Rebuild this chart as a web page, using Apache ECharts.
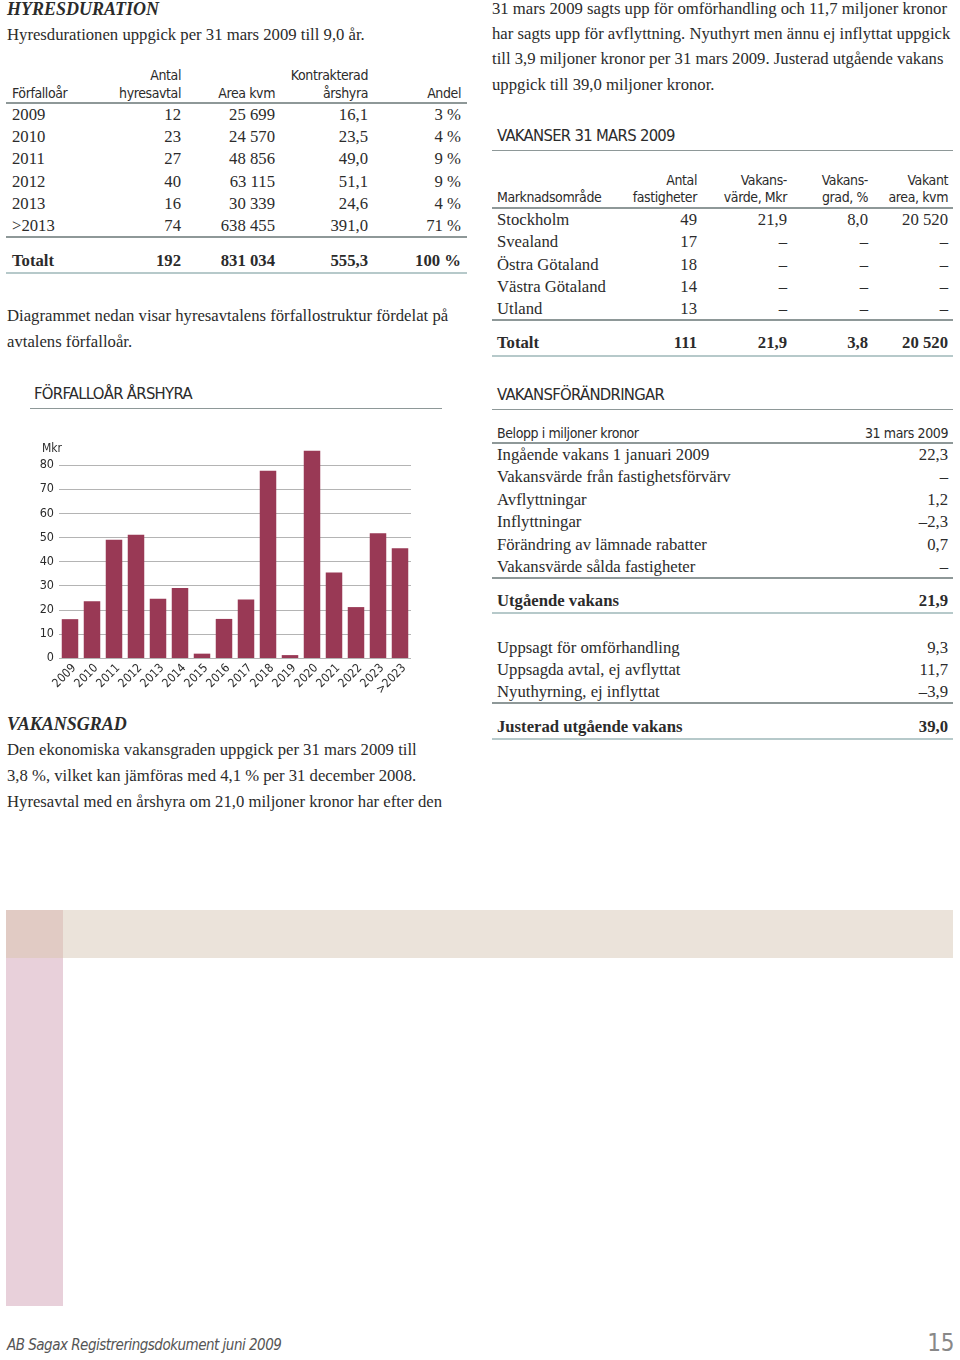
<!DOCTYPE html>
<html><head><meta charset="utf-8">
<script src="https://cdn.jsdelivr.net/npm/echarts/dist/echarts.min.js"></script>
<style>
html,body{margin:0;padding:0;width:960px;height:1360px;background:#fff;overflow:hidden;}
body{position:relative;}
.t{position:absolute;white-space:nowrap;color:#2b2b2b;}
.serif{font-family:"Liberation Serif","Times New Roman",serif;font-size:16.7px;}
.sans{font-family:"Liberation Sans Narrow","DejaVu Sans Condensed","Open Sans",sans-serif;font-size:14px;letter-spacing:-0.4px;}
.head{font-family:"Liberation Sans Narrow","DejaVu Sans Condensed","Open Sans",sans-serif;font-size:16.5px;letter-spacing:-0.7px;}
.bi{font-weight:bold;font-style:italic;font-size:18px;}
.b{font-weight:bold;}
.hl{position:absolute;height:2px;background:#8e9898;}
.hl.light{background:#b6c9ca;}
.hl.thin{height:1px;background:#8e9898;}
.rect{position:absolute;}
#chart{position:absolute;left:30px;top:420px;width:420px;height:280px;}
</style></head>
<body>
<div class="rect" style="left:6px;top:910px;width:947px;height:48px;background:#ebe3da;"></div>
<div class="rect" style="left:6px;top:958px;width:57px;height:348px;background:#e8d0da;"></div>
<div class="rect" style="left:6px;top:910px;width:57px;height:48px;background:#e1cbc4;"></div>
<div id="chart"></div>
<script>
// ---- chart data ----
const years = ['2009','2010','2011','2012','2013','2014','2015','2016','2017','2018','2019','2020','2021','2022','2023','>2023'];
const rent = [16.1,23.5,49.0,51.1,24.6,29.0,1.8,16.2,24.3,77.6,1.2,85.9,35.4,21.1,51.7,45.5];

// ---- table: hyresduration ----
const durHead1 = ['', 'Antal', '', 'Kontrakterad', ''];
const durHead2 = ['Förfalloår', 'hyresavtal', 'Area kvm', 'årshyra', 'Andel'];
const durYears = ['2009','2010','2011','2012','2013','>2013'];
const durCount = ['12','23','27','40','16','74'];
const durArea = ['25 699','24 570','48 856','63 115','30 339','638 455'];
const durRent = ['16,1','23,5','49,0','51,1','24,6','391,0'];
const durShare = ['3 %','4 %','9 %','9 %','4 %','71 %'];
const durTotal = ['Totalt','192','831 034','555,3','100 %'];

// ---- table: vakanser ----
const vakHead1 = ['', 'Antal', 'Vakans-', 'Vakans-', 'Vakant'];
const vakHead2 = ['Marknadsområde', 'fastigheter', 'värde, Mkr', 'grad, %', 'area, kvm'];
const vakRegions = ['Stockholm','Svealand','Östra Götaland','Västra Götaland','Utland'];
const vakCount = ['49','17','18','14','13'];
const vakValue = ['21,9','–','–','–','–'];
const vakGrade = ['8,0','–','–','–','–'];
const vakArea = ['20 520','–','–','–','–'];
const vakTotal = ['Totalt','111','21,9','3,8','20 520'];

// ---- table: vakansförändringar ----
const chgLabels = ['Ingående vakans 1 januari 2009','Vakansvärde från fastighetsförvärv','Avflyttningar','Inflyttningar','Förändring av lämnade rabatter','Vakansvärde sålda fastigheter'];
const chgValues = ['22,3','–','1,2','–2,3','0,7','–'];
const chgOut = ['Utgående vakans','21,9'];
const chgLabels2 = ['Uppsagt för omförhandling','Uppsagda avtal, ej avflyttat','Nyuthyrning, ej inflyttat'];
const chgValues2 = ['9,3','11,7','–3,9'];
const chgAdj = ['Justerad utgående vakans','39,0'];

// ---- helpers ----
function txt(x, y, s, cls, align, extra) {
  const d = document.createElement('div');
  d.className = 't ' + cls;
  d.textContent = s;
  d.style.lineHeight = '24px';
  d.style.top = (y - 12) + 'px';
  if (align === 'right') { d.style.left = (x - 400) + 'px'; d.style.width = '400px'; d.style.textAlign = 'right'; }
  else d.style.left = x + 'px';
  if (extra) Object.assign(d.style, extra);
  document.body.appendChild(d);
}
function hl(x1, x2, y, cls) {
  const d = document.createElement('div');
  d.className = 'hl ' + (cls || '');
  d.style.left = x1 + 'px'; d.style.width = (x2 - x1) + 'px'; d.style.top = y + 'px';
  document.body.appendChild(d);
}

// ---- left column ----
txt(7, 9, 'HYRESDURATION', 'serif bi');
txt(7, 35, 'Hyresdurationen uppgick per 31 mars 2009 till 9,0 år.', 'serif');
const durCols = [12, 181, 275, 368, 461];
durHead1.forEach((s, i) => { if (s) txt(durCols[i], 75, s, 'sans', i ? 'right' : 'left'); });
durHead2.forEach((s, i) => txt(durCols[i], 93, s, 'sans', i ? 'right' : 'left'));
hl(6, 467, 102);
durYears.forEach((yr, r) => {
  const y = 115 + r * 22.2;
  const row = [yr, durCount[r], durArea[r], durRent[r], durShare[r]];
  row.forEach((s, i) => txt(durCols[i], y, s, 'serif', i ? 'right' : 'left'));
});
hl(6, 467, 236);
durTotal.forEach((s, i) => txt(durCols[i], 261, s, 'serif b', i ? 'right' : 'left'));
hl(6, 467, 272, 'light');
txt(7, 316, 'Diagrammet nedan visar hyresavtalens förfallostruktur fördelat på', 'serif');
txt(7, 342, 'avtalens förfalloår.', 'serif');

txt(34, 394, 'FÖRFALLOÅR ÅRSHYRA', 'head');
hl(30, 442, 408, 'thin');

txt(7, 724, 'VAKANSGRAD', 'serif bi');
txt(7, 750, 'Den ekonomiska vakansgraden uppgick per 31 mars 2009 till', 'serif');
txt(7, 776, '3,8 %, vilket kan jämföras med 4,1 % per 31 december 2008.', 'serif');
txt(7, 802, 'Hyresavtal med en årshyra om 21,0 miljoner kronor har efter den', 'serif');

// ---- right column ----
txt(492, 9, '31 mars 2009 sagts upp för omförhandling och 11,7 miljoner kronor', 'serif');
txt(492, 34, 'har sagts upp för avflyttning. Nyuthyrt men ännu ej inflyttat uppgick', 'serif');
txt(492, 59, 'till 3,9 miljoner kronor per 31 mars 2009. Justerad utgående vakans', 'serif');
txt(492, 85, 'uppgick till 39,0 miljoner kronor.', 'serif');

txt(497, 136, 'VAKANSER 31 MARS 2009', 'head');
hl(492, 953, 150, 'thin');
const vakCols = [497, 697, 787, 868, 948];
vakHead1.forEach((s, i) => { if (s) txt(vakCols[i], 180, s, 'sans', 'right'); });
vakHead2.forEach((s, i) => txt(vakCols[i], 197, s, 'sans', i ? 'right' : 'left'));
hl(492, 953, 207);
vakRegions.forEach((reg, r) => {
  const y = 220 + r * 22.25;
  const row = [reg, vakCount[r], vakValue[r], vakGrade[r], vakArea[r]];
  row.forEach((s, i) => txt(vakCols[i], y, s, 'serif', i ? 'right' : 'left'));
});
hl(492, 953, 319);
vakTotal.forEach((s, i) => txt(vakCols[i], 343, s, 'serif b', i ? 'right' : 'left'));
hl(492, 953, 355, 'light');

txt(497, 395, 'VAKANSFÖRÄNDRINGAR', 'head');
hl(492, 953, 409, 'thin');
txt(497, 433, 'Belopp i miljoner kronor', 'sans');
txt(948, 433, '31 mars 2009', 'sans', 'right');
hl(492, 953, 442);
chgLabels.forEach((s, r) => {
  const y = 455 + r * 22.4;
  txt(497, y, s, 'serif');
  txt(948, y, chgValues[r], 'serif', 'right');
});
hl(492, 953, 577);
txt(497, 601, chgOut[0], 'serif b');
txt(948, 601, chgOut[1], 'serif b', 'right');
hl(492, 953, 612, 'light');
chgLabels2.forEach((s, r) => {
  const y = 648 + r * 22.2;
  txt(497, y, s, 'serif');
  txt(948, y, chgValues2[r], 'serif', 'right');
});
hl(492, 953, 702);
txt(497, 727, chgAdj[0], 'serif b');
txt(948, 727, chgAdj[1], 'serif b', 'right');
hl(492, 953, 738, 'light');

// ---- footer ----
txt(7, 1345, 'AB Sagax Registreringsdokument juni 2009', 'sans', 'left', {fontStyle:'italic', fontSize:'15px', color:'#555', letterSpacing:'-0.5px'});
txt(954, 1343, '15', 'sans', 'right', {fontSize:'24px', color:'#888'});

// ---- chart ----
const NARROW = '"Liberation Sans Narrow","DejaVu Sans Condensed","Open Sans",sans-serif';
const chart = echarts.init(document.getElementById('chart'), null, {renderer: 'canvas'});
chart.setOption({
  animation: false,
  grid: {left: 29, right: 39, top: 45, bottom: 42},
  xAxis: {
    type: 'category', data: years,
    axisLine: {show: false}, axisTick: {show: false},
    axisLabel: {rotate: 45, margin: 4, align: 'right', verticalAlign: 'top', fontFamily: NARROW, fontSize: 12, color: '#2b2b2b', interval: 0}
  },
  yAxis: {
    type: 'value', min: 0, max: 80, interval: 10,
    name: 'Mkr', nameLocation: 'end', nameGap: 10,
    nameTextStyle: {fontFamily: NARROW, fontSize: 12, color: '#2b2b2b', align: 'left', padding: [0, 0, 0, -17]},
    axisLine: {show: false}, axisTick: {show: false},
    axisLabel: {margin: 5, fontFamily: NARROW, fontSize: 12.5, color: '#2b2b2b'},
    splitLine: {lineStyle: {color: '#b4b4b4', width: 1}}
  },
  series: [{
    type: 'bar', data: rent, barWidth: '75%', clip: false,
    itemStyle: {color: '#993955'}
  }]
});
</script>
</body></html>
